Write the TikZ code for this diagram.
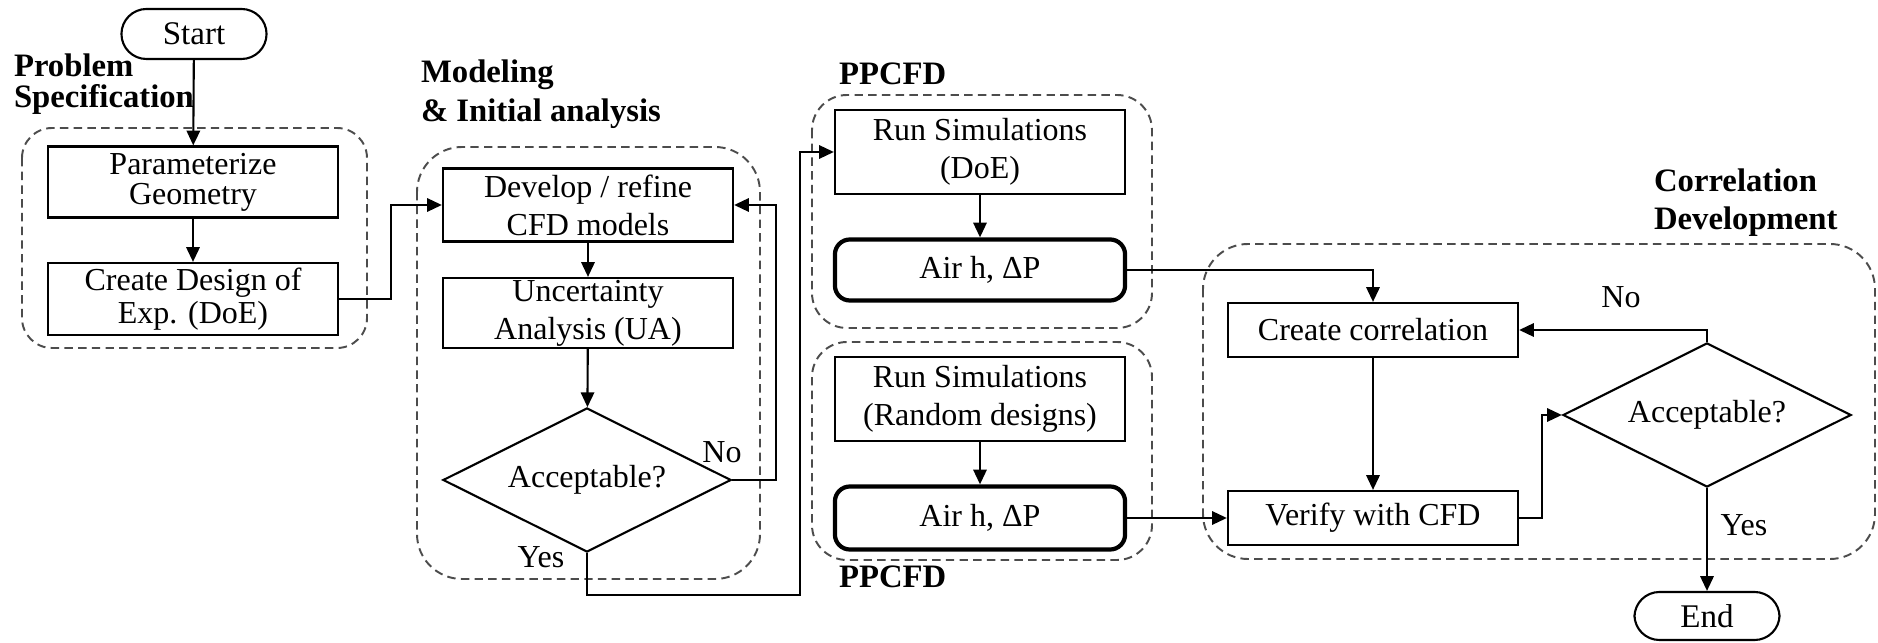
\documentclass[tikz,border=0pt]{standalone}
\usepackage{fontspec}
\setmainfont{Liberation Serif}
\usepackage{tikz}
\usetikzlibrary{arrows.meta, shapes.geometric}

\begin{document}
\begin{tikzpicture}[x=0.01cm, y=-0.01cm,
				>={Triangle[length=4.2pt, width=3.8pt]},
				line width=0.6pt,
				block/.style={draw, minimum width=2.9cm, inner sep=0pt, align=center, font=\fontsize{9.1}{10.8}\selectfont},
				result/.style={block, line width=1.2pt, rounded corners=0.15cm},
				decision/.style={draw, diamond, aspect=2, minimum width=2.88cm, minimum height=1.44cm, inner sep=0pt, font=\fontsize{9.1}{10.8}\selectfont},
				terminal/.style={draw, rounded corners=0.25cm, minimum width=1.45cm, minimum height=0.5cm, inner sep=0pt, font=\fontsize{9.4}{11}\selectfont},
				group/.style={draw=black!70, line width=0.55pt, dash pattern=on 2.4pt off 1.5pt, rounded corners=#1},
				group/.default=0.35cm,
				heading/.style={anchor=base west, inner sep=0pt, font=\bfseries\fontsize{9.3}{11}\selectfont},
				tag/.style={inner sep=0pt, font=\fontsize{9.1}{10.8}\selectfont}]
				\useasboundingbox (0,0) rectangle (1878,643);

				% dashed stage frames
				\draw[group=0.3cm] (22,128) rectangle (367,348);
				\draw[group=0.45cm] (417,147) rectangle (760,579);
				\draw[group] (812,95) rectangle (1152,328);
				\draw[group] (812,342) rectangle (1152,560);
				\draw[group=0.45cm] (1203,244) rectangle (1875,559);

				% stage titles
				\node at (13,77) (prob) [heading] {Problem};
				\node at (13,108) (spec) [heading] {Specification};
				\node at (420,83) (model) [heading] {Modeling};
				\node at (420,122) (init) [heading] {\& Initial analysis};
				\node at (838,85) (ppa) [heading] {PPCFD};
				\node at (838,588) (ppb) [heading] {PPCFD};
				\node at (1653,192) (corrhead) [heading] {Correlation};
				\node at (1653,230) (devhead) [heading] {Development};

				% steps
				\node at (194,34) (start) [terminal] {Start};
				\node at (193,182) (param) [block, minimum height=0.71cm, font=\fontsize{9.1}{8.6}\selectfont] {Parameterize\\Geometry};
				\node at (193,299) (doe) [block, minimum height=0.72cm, font=\fontsize{9.1}{9.2}\selectfont] {Create Design of\\Exp. (DoE)};
				\node at (588,205) (refine) [block, minimum height=0.73cm] {Develop / refine\\CFD models};
				\node at (588,313) (ua) [block, minimum height=0.70cm] {Uncertainty\\Analysis (UA)};
				\node at (587,480) (check) [decision] {Acceptable?};
				\node at (980,152) (simdoe) [block, minimum height=0.84cm] {Run Simulations\\(DoE)};
				\node at (980,270) (airdoe) [result, minimum height=0.61cm] {Air h, ΔP};
				\node at (980,399) (simrand) [block, minimum height=0.84cm] {Run Simulations\\(Random designs)};
				\node at (980,518) (airrand) [result, minimum height=0.63cm] {Air h, ΔP};
				\node at (1373,330) (corr) [block, minimum height=0.54cm] {Create correlation};
				\node at (1373,518) (verify) [block, minimum height=0.54cm] {Verify with CFD};
				\node at (1707,415) (recheck) [decision] {Acceptable?};
				\node at (1707,616) (stop) [terminal, minimum height=0.48cm] {End};
				\coordinate (feed) at (800,595);

				% flow
				\draw[->] (start) -- (param);
				\draw[->] (param) -- (doe);
				\draw[->] (doe.east) -- ++(52,0) |- (refine.west);
				\draw[->] (refine) -- (ua);
				\draw[->] (ua) -- (check);
				\draw[->] (check.east) -- ++(44,0) |- (refine.east);
				\draw[->] (check.south) |- (feed) |- (simdoe.west);
				\draw[->] (simdoe) -- (airdoe);
				\draw[->] (simrand) -- (airrand);
				\draw[->] (airdoe.east) -| (corr.north);
				\draw[->] (airrand.east) -- (verify.west);
				\draw[->] (corr) -- (verify);
				\draw[->] (verify.east) -- ++(23,0) |- (recheck.west);
				\draw[->] (recheck.north) |- (corr.east);
				\draw[->] (recheck.south) -- (stop.north);

				\node at (722,452) (noa) [tag] {No};
				\node at (541,557) (yesa) [tag] {Yes};
				\node at (1621,297) (nob) [tag] {No};
				\node at (1744,525) (yesb) [tag] {Yes};
			\end{tikzpicture}
\end{document}
